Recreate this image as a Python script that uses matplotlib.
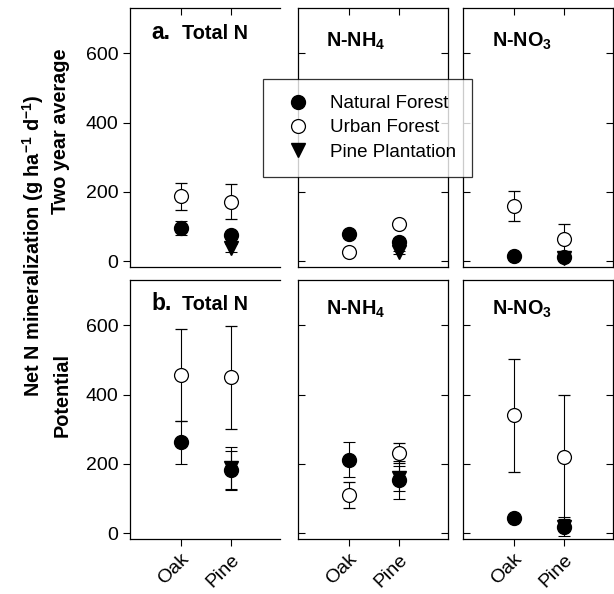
"""Net N mineralization: two-year average vs potential, Oak vs Pine stands."""

import numpy as np
import matplotlib
matplotlib.use("Agg")
import matplotlib.pyplot as plt
from matplotlib.lines import Line2D

plt.rcParams["font.family"] = ["Liberation Sans", "DejaVu Sans"]
plt.rcParams["mathtext.fontset"] = "custom"
plt.rcParams["mathtext.rm"] = "Liberation Sans"
plt.rcParams["mathtext.bf"] = "Liberation Sans:bold"

nan = np.nan
sites = ["Oak", "Pine"]

# two year average (g ha-1 d-1)
avg_total_nat = [96, 75]
avg_total_nat_err = [21, 10]
avg_total_urb = [187, 172]
avg_total_urb_err = [38, 51]
avg_total_pp = [nan, 37]
avg_total_pp_err = [nan, 12]

avg_nh4_nat = [78, 56]
avg_nh4_nat_err = [12, 10]
avg_nh4_urb = [27, 107]
avg_nh4_urb_err = [5, 6]
avg_nh4_pp = [nan, 25]
avg_nh4_pp_err = [nan, 4]

avg_no3_nat = [16, 12]
avg_no3_nat_err = [4, 5]
avg_no3_urb = [159, 65]
avg_no3_urb_err = [43, 43]
avg_no3_pp = [nan, 9]
avg_no3_pp_err = [nan, 4]

# potential
pot_total_nat = [262, 182]
pot_total_nat_err = [61, 54]
pot_total_urb = [457, 450]
pot_total_urb_err = [133, 148]
pot_total_pp = [nan, 187]
pot_total_pp_err = [nan, 63]

pot_nh4_nat = [212, 154]
pot_nh4_nat_err = [50, 55]
pot_nh4_urb = [111, 231]
pot_nh4_urb_err = [38, 29]
pot_nh4_pp = [nan, 158]
pot_nh4_pp_err = [nan, 37]

pot_no3_nat = [45, 19]
pot_no3_nat_err = [5, 6]
pot_no3_urb = [340, 220]
pot_no3_urb_err = [164, 180]
pot_no3_pp = [nan, 19]
pot_no3_pp_err = [nan, 28]

panels = [
    [(avg_total_nat, avg_total_nat_err, avg_total_urb, avg_total_urb_err, avg_total_pp, avg_total_pp_err),
     (avg_nh4_nat, avg_nh4_nat_err, avg_nh4_urb, avg_nh4_urb_err, avg_nh4_pp, avg_nh4_pp_err),
     (avg_no3_nat, avg_no3_nat_err, avg_no3_urb, avg_no3_urb_err, avg_no3_pp, avg_no3_pp_err)],
    [(pot_total_nat, pot_total_nat_err, pot_total_urb, pot_total_urb_err, pot_total_pp, pot_total_pp_err),
     (pot_nh4_nat, pot_nh4_nat_err, pot_nh4_urb, pot_nh4_urb_err, pot_nh4_pp, pot_nh4_pp_err),
     (pot_no3_nat, pot_no3_nat_err, pot_no3_urb, pot_no3_urb_err, pot_no3_pp, pot_no3_pp_err)],
]
titles = ["Total N", r"N-NH$_\mathbf{4}$", r"N-NO$_\mathbf{3}$"]
letters = ["a.", "b."]

W, H = 614, 594
fig = plt.figure(figsize=(W / 100, H / 100), dpi=100)

lefts = [130, 298, 463]
tops = [8, 280]
ax_w, ax_h = 150, 259
x = np.array([1, 2])
ms = 10
eb = dict(capsize=4.5, elinewidth=0.8, capthick=0.8, ecolor="black", linestyle="none")

for r in range(2):
    for c in range(3):
        ax = fig.add_axes([lefts[c] / W, 1 - (tops[r] + ax_h) / H, ax_w / W, ax_h / H])
        nat, nat_e, urb, urb_e, pp, pp_e = panels[r][c]
        ax.errorbar(x, pp, yerr=pp_e, marker="v", ms=ms, mfc="black", mec="black", **eb)
        ax.errorbar(x, nat, yerr=nat_e, marker="o", ms=ms, mfc="black", mec="black", **eb)
        ax.errorbar(x, urb, yerr=urb_e, marker="o", ms=ms, mfc="white", mec="black",
                    mew=0.9, **eb)
        ax.set_xlim(0, 2.97)
        ax.set_ylim(-17, 731)
        ax.set_yticks([0, 200, 400, 600])
        ax.set_xticks(x)
        for s in ax.spines.values():
            s.set_linewidth(0.9)
        if c == 0:
            ax.spines["right"].set_visible(False)
            ax.tick_params(axis="y", direction="out", length=5, width=0.8, labelsize=14)
        else:
            ax.tick_params(axis="y", direction="in", length=5, width=0.8, left=True,
                           right=True, labelleft=False)
        if r == 0:
            ax.tick_params(axis="x", direction="in", length=5, width=0.8, top=True,
                           bottom=False, labelbottom=False)
        else:
            ax.tick_params(axis="x", direction="out", length=5, width=0.8, labelsize=14)
            ax.set_xticklabels(sites, rotation=45, ha="right", rotation_mode="anchor")
        if c == 0:
            ax.text(0.14, 0.88 if r == 0 else 0.885, letters[r], transform=ax.transAxes,
                    fontsize=16.5, fontweight="bold", va="baseline")
            ax.text(0.35, 0.88 if r == 0 else 0.885, titles[c], transform=ax.transAxes,
                    fontsize=14.3, fontweight="bold", va="baseline")
        else:
            ax.text(0.19, 0.85 if r == 0 else 0.865, titles[c], transform=ax.transAxes,
                    fontsize=14.3, fontweight="bold", va="baseline")

fig.text(33 / W, 1 - 246 / H,
         r"Net N mineralization (g ha$^{\mathbf{-1}}$ d$^{\mathbf{-1}}$)",
         rotation=90, ha="center", va="center", fontsize=14.3, fontweight="bold")
fig.text(61 / W, 1 - 131 / H, "Two year average", rotation=90, ha="center",
         va="center", fontsize=14.3, fontweight="bold")
fig.text(62 / W, 1 - 395 / H, "Potential", rotation=90, ha="center",
         va="center", fontsize=14.3, fontweight="bold")

handles = [
    Line2D([], [], marker="o", ms=ms, mfc="black", mec="black", ls="none"),
    Line2D([], [], marker="o", ms=ms, mfc="white", mec="black", mew=0.9, ls="none"),
    Line2D([], [], marker="v", ms=ms, mfc="black", mec="black", ls="none"),
]
leg = fig.legend(handles, ["Natural Forest", "Urban Forest", "Pine Plantation"],
                 loc="upper left", bbox_to_anchor=(263 / W, 1 - 79 / H),
                 fontsize=13.5, frameon=True, fancybox=False, borderaxespad=0,
                 borderpad=0.85, labelspacing=0.38, handlelength=2.05,
                 handletextpad=0.65)
leg.get_frame().set_edgecolor("black")
leg.get_frame().set_linewidth(0.9)

fig.savefig("out.png", dpi=100)
